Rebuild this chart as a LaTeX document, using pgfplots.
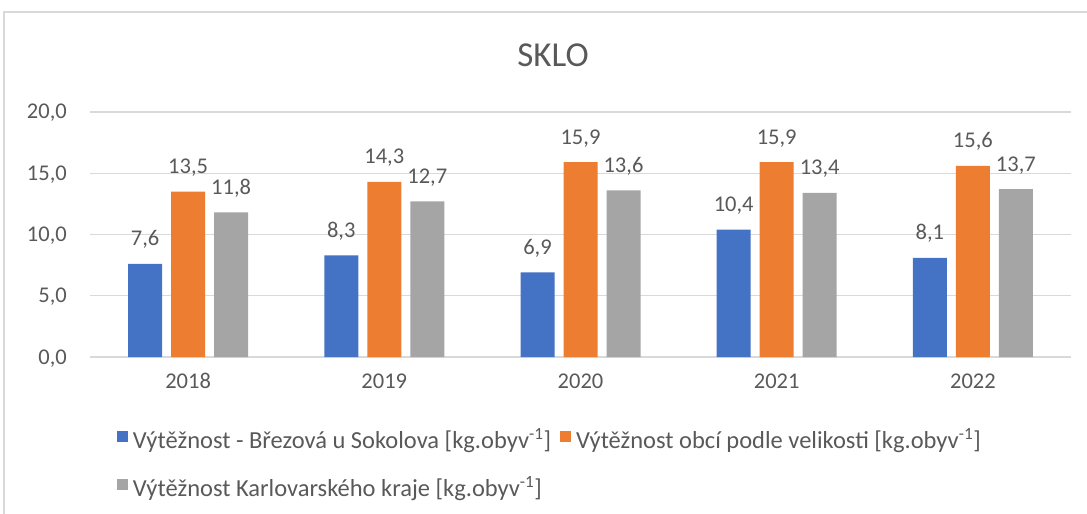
\documentclass[border=0pt]{standalone}
\usepackage{pgfplots}
\pgfplotsset{compat=1.18}
\usepackage{fontspec}
\setmainfont{Carlito}
\definecolor{cBlue}{HTML}{4472C4}
\definecolor{cOrange}{HTML}{ED7D31}
\definecolor{cGray}{HTML}{A5A5A5}
\definecolor{cText}{HTML}{595959}
\definecolor{cGrid}{HTML}{D9D9D9}
\begin{document}
\begin{tikzpicture}
\path[use as bounding box] (0,0) rectangle (1087bp,514bp);
\draw[cGrid, line width=1.5bp] (4bp,-2bp) -- (4bp,502bp) -- (1090bp,502bp);
\node[anchor=base, text=cText, inner sep=0pt, font=\fontsize{35bp}{42bp}\selectfont] at (553bp,447bp) {SKLO};
\begin{axis}[
  at={(90bp,157bp)}, anchor=south west,
  scale only axis, width=981bp, height=245bp,
  ybar=9bp, bar width=34bp,
  xmin=-0.5, xmax=4.5, ymin=0, ymax=20,
  xtick=data, xticklabels={2018,2019,2020,2021,2022},
  ytick={0,5,10,15,20},
  axis line style={draw=none},
  major tick length=0pt,
  ymajorgrids, grid style={cGrid, line width=1.3bp},
  clip=false,
  /pgf/number format/.cd, use comma, fixed, fixed zerofill, precision=1, assume math mode=true,
  /pgfplots/.cd,
  tick label style={text=cText, font=\fontsize{22.5bp}{27bp}\selectfont, inner sep=0pt},
  yticklabel style={anchor=base east, xshift=-23bp, yshift=-7bp},
  xticklabel style={anchor=base, yshift=-31bp},
  nodes near coords,
  every node near coord/.append style={anchor=base, yshift=18bp, inner sep=0pt, text=cText, font=\fontsize{22.5bp}{27bp}\selectfont},
  legend columns=2,
  legend cell align=left,
  legend image code/.code={\fill[#1] (0bp,1bp) rectangle (11bp,12bp);},
  legend style={at={(0.0275,-0.30)}, anchor=north west, draw=none, fill=none,
    inner sep=0pt, outer sep=0pt, text=cText, font=\fontsize{24.5bp}{29bp}\selectfont,
    row sep=25bp,
    nodes={inner sep=0pt, text height=17bp, text depth=5bp},
    /tikz/every odd column/.style={column sep=5bp},
    /tikz/every even column/.style={column sep=9bp}},
]
\addplot[fill=cBlue, draw=none] coordinates {(0,7.6) (1,8.3) (2,6.9) (3,10.4) (4,8.1)};
\addplot[fill=cOrange, draw=none] coordinates {(0,13.5) (1,14.3) (2,15.9) (3,15.9) (4,15.6)};
\addplot[fill=cGray, draw=none] coordinates {(0,11.8) (1,12.7) (2,13.6) (3,13.4) (4,13.7)};
\legend{Výtěžnost - Březová u Sokolova [kg.obyv\textsuperscript{-1}],
  Výtěžnost obcí podle velikosti [kg.obyv\textsuperscript{-1}],
  Výtěžnost Karlovarského kraje [kg.obyv\textsuperscript{-1}]}
\end{axis}
\end{tikzpicture}
\end{document}
